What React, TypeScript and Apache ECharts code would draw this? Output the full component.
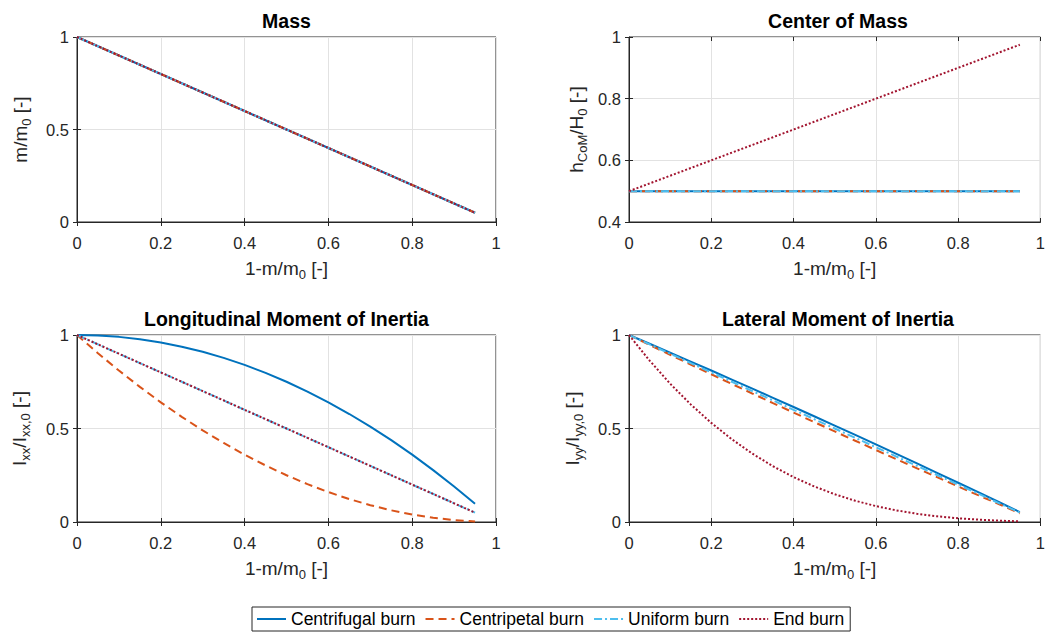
import React, { useEffect, useRef } from "react";
import * as echarts from "echarts";

// Burned propellant fraction 1 - m/m0 (shared x for every panel)
const burnFraction = [0, 0.05, 0.1, 0.15, 0.2, 0.25, 0.3, 0.35, 0.4, 0.45, 0.5, 0.55, 0.6, 0.65, 0.7, 0.75, 0.8, 0.85, 0.9, 0.95];

// Mass ratio m/m0 (identical for all burn modes)
const massRemaining = [1, 0.95, 0.9, 0.85, 0.8, 0.75, 0.7, 0.65, 0.6, 0.55, 0.5, 0.45, 0.4, 0.35, 0.3, 0.25, 0.2, 0.15, 0.1, 0.05];

// Centre of mass height h_CoM/H0
const comRadialBurn = [0.5, 0.5, 0.5, 0.5, 0.5, 0.5, 0.5, 0.5, 0.5, 0.5, 0.5, 0.5, 0.5, 0.5, 0.5, 0.5, 0.5, 0.5, 0.5, 0.5];
const comEndBurn = [0.5, 0.525, 0.55, 0.575, 0.6, 0.625, 0.65, 0.675, 0.7, 0.725, 0.75, 0.775, 0.8, 0.825, 0.85, 0.875, 0.9, 0.925, 0.95, 0.975];

// Longitudinal moment of inertia Ixx/Ixx,0
const ixxCentrifugal = [1, 0.9975, 0.99, 0.9775, 0.96, 0.9375, 0.91, 0.8775, 0.84, 0.7975, 0.75, 0.6975, 0.64, 0.5775, 0.51, 0.4375, 0.36, 0.2775, 0.19, 0.0975];
const ixxCentripetal = [1, 0.9025, 0.81, 0.7225, 0.64, 0.5625, 0.49, 0.4225, 0.36, 0.3025, 0.25, 0.2025, 0.16, 0.1225, 0.09, 0.0625, 0.04, 0.0225, 0.01, 0.0025];
const ixxUniform = [1, 0.95, 0.9, 0.85, 0.8, 0.75, 0.7, 0.65, 0.6, 0.55, 0.5, 0.45, 0.4, 0.35, 0.3, 0.25, 0.2, 0.15, 0.1, 0.05];
const ixxEnd = [1, 0.95, 0.9, 0.85, 0.8, 0.75, 0.7, 0.65, 0.6, 0.55, 0.5, 0.45, 0.4, 0.35, 0.3, 0.25, 0.2, 0.15, 0.1, 0.05];

// Lateral moment of inertia Iyy/Iyy,0
const iyyCentrifugal = [1, 0.953, 0.9056, 0.858, 0.81, 0.7617, 0.7131, 0.6642, 0.615, 0.5655, 0.5156, 0.4655, 0.415, 0.3642, 0.3131, 0.2617, 0.21, 0.158, 0.1056, 0.053];
const iyyCentripetal = [1, 0.947, 0.8944, 0.842, 0.79, 0.7383, 0.6869, 0.6358, 0.585, 0.5345, 0.4844, 0.4345, 0.385, 0.3358, 0.2869, 0.2383, 0.19, 0.142, 0.0944, 0.047];
const iyyUniform = [1, 0.95, 0.9, 0.85, 0.8, 0.75, 0.7, 0.65, 0.6, 0.55, 0.5, 0.45, 0.4, 0.35, 0.3, 0.25, 0.2, 0.15, 0.1, 0.05];
const iyyEnd = [1, 0.8632, 0.7397, 0.6289, 0.53, 0.4424, 0.3653, 0.2981, 0.24, 0.1904, 0.1484, 0.1136, 0.085, 0.0621, 0.0441, 0.0303, 0.02, 0.0125, 0.0072, 0.0032];

const burnModes = ["Centrifugal burn", "Centripetal burn", "Uniform burn", "End burn"];
const xTickStep = 0.2;

const INK = "#262626";
const GRID_LINE = "#e2e2e2";
const FONT = '"Liberation Sans", Arial, Helvetica, sans-serif';

const modeStyles = [
  { color: "#0072BD", width: 2, type: "solid" as any },
  { color: "#D95319", width: 2, type: [8, 5] as any },
  { color: "#4DBEEE", width: 2, type: [8, 3, 2, 3] as any },
  { color: "#A2142F", width: 2, type: [2, 2] as any },
];

const panels = [
  {
    title: "Mass",
    box: { left: 77, top: 37, width: 419, height: 185 },
    yMin: 0, yMax: 1, yStep: 0.5,
    yName: "{n|m/m}{s|0}{n| [-]}", yGap: 44,
    lines: [massRemaining, massRemaining, massRemaining, massRemaining],
  },
  {
    title: "Center of Mass",
    box: { left: 629, top: 37, width: 418, height: 185 },
    yMin: 0.4, yMax: 1, yStep: 0.2,
    yName: "{n|h}{s|CoM}{n|/H}{s|0}{n| [-]}", yGap: 40,
    lines: [comRadialBurn, comRadialBurn, comRadialBurn, comEndBurn],
  },
  {
    title: "Longitudinal Moment of Inertia",
    box: { left: 77, top: 335, width: 419, height: 187 },
    yMin: 0, yMax: 1, yStep: 0.5,
    yName: "{n|I}{s|xx}{n|/I}{s|xx,0}{n| [-]}", yGap: 45,
    lines: [ixxCentrifugal, ixxCentripetal, ixxUniform, ixxEnd],
  },
  {
    title: "Lateral Moment of Inertia",
    box: { left: 629, top: 335, width: 418, height: 187 },
    yMin: 0, yMax: 1, yStep: 0.5,
    yName: "{n|I}{s|yy}{n|/I}{s|yy,0}{n| [-]}", yGap: 44,
    lines: [iyyCentrifugal, iyyCentripetal, iyyUniform, iyyEnd],
  },
];

const nameRich = {
  n: { fontSize: 19, color: INK, fontFamily: FONT },
  s: { fontSize: 13, color: INK, fontFamily: FONT, padding: [12, 0, 0, 0] },
};

function buildOption() {
  const grids: any[] = [];
  const xAxes: any[] = [];
  const yAxes: any[] = [];
  const series: any[] = [];
  const graphics: any[] = [];

  panels.forEach((p, i) => {
    grids.push({
      ...p.box,
      show: true,
      borderColor: INK,
      borderWidth: 1,
      backgroundColor: "#fff",
      containLabel: false,
    });

    const tick = { show: true, inside: true, length: 4, lineStyle: { color: INK, width: 1 } };

    // bottom x axis with labels and grid lines
    xAxes.push({
      type: "value", gridIndex: i, position: "bottom",
      min: 0, max: 1, interval: xTickStep,
      axisLine: { show: true, onZero: false, lineStyle: { color: INK, width: 1 } },
      axisTick: tick,
      axisLabel: { color: INK, fontSize: 16.5, fontFamily: FONT, margin: 12 },
      splitLine: { show: true, lineStyle: { color: GRID_LINE, width: 1 } },
      name: "{n|1-m/m}{s|0}{n| [-]}",
      nameLocation: "middle", nameGap: 34,
      nameTextStyle: { rich: nameRich },
    });
    // top mirror axis carrying only ticks
    xAxes.push({
      type: "value", gridIndex: i, position: "top",
      min: 0, max: 1, interval: xTickStep,
      axisLine: { show: false }, axisTick: tick,
      axisLabel: { show: false }, splitLine: { show: false },
    });

    yAxes.push({
      type: "value", gridIndex: i, position: "left",
      min: p.yMin, max: p.yMax, interval: p.yStep,
      axisLine: { show: true, onZero: false, lineStyle: { color: INK, width: 1 } },
      axisTick: tick,
      axisLabel: { color: INK, fontSize: 16.5, fontFamily: FONT, margin: 8 },
      splitLine: { show: true, lineStyle: { color: GRID_LINE, width: 1 } },
      name: p.yName, nameLocation: "middle", nameGap: p.yGap, nameRotate: 90,
      nameTextStyle: { rich: nameRich },
    });
    // right mirror axis carrying only ticks
    yAxes.push({
      type: "value", gridIndex: i, position: "right",
      min: p.yMin, max: p.yMax, interval: p.yStep,
      axisLine: { show: false }, axisTick: tick,
      axisLabel: { show: false }, splitLine: { show: false },
    });

    p.lines.forEach((vals, k) => {
      series.push({
        name: burnModes[k],
        type: "line",
        xAxisIndex: i * 2,
        yAxisIndex: i * 2,
        data: burnFraction.map((x, j) => [x, vals[j]]),
        symbol: "none",
        showSymbol: false,
        lineStyle: modeStyles[k],
        itemStyle: { color: modeStyles[k].color },
        color: modeStyles[k].color,
        z: 3 + k,
      });
    });

    graphics.push({
      type: "text",
      x: p.box.left + p.box.width / 2,
      y: p.box.top - 16,
      style: {
        text: p.title,
        font: `bold 19.5px ${FONT}`,
        fill: "#000",
        align: "center",
        verticalAlign: "middle",
        textAlign: "center",
        textVerticalAlign: "middle",
      },
    });
  });

  return {
    animation: false,
    backgroundColor: "#fff",
    textStyle: { fontFamily: FONT },
    grid: grids,
    xAxis: xAxes,
    yAxis: yAxes,
    series,
    graphic: graphics,
    legend: {
      data: burnModes,
      left: 252,
      top: 607,
      orient: "horizontal",
      borderColor: INK,
      borderWidth: 1,
      borderRadius: 0,
      backgroundColor: "#fff",
      padding: [3, 6, 3, 4],
      itemGap: 9,
      itemWidth: 29,
      itemHeight: 12,
      itemStyle: { opacity: 0 },
      textStyle: { color: "#000", fontSize: 17.5, fontFamily: FONT },
    },
  };
}

export default function App() {
  const ref = useRef<HTMLDivElement>(null);

  useEffect(() => {
    if (!ref.current) return;
    const chart = echarts.init(ref.current, undefined, { renderer: "svg" });
    chart.setOption(buildOption() as any);
    return () => chart.dispose();
  }, []);

  return (
    <div
      ref={ref}
      style={{ position: "fixed", left: 0, top: 0, width: 1048, height: 633, background: "#fff" }}
    />
  );
}
